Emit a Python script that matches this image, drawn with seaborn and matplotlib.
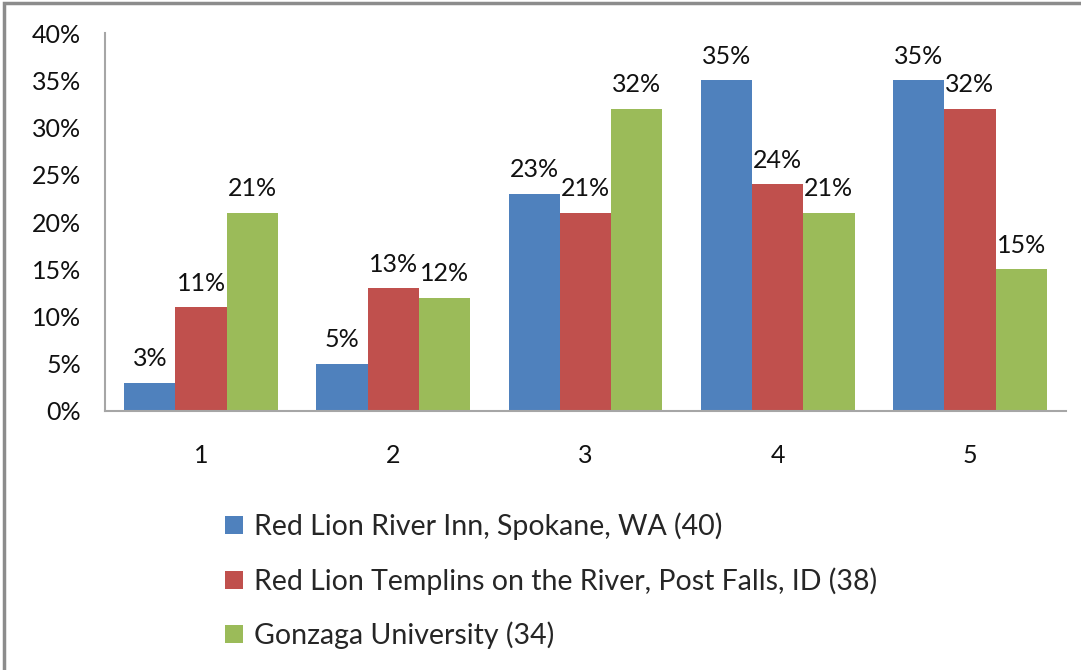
import pandas as pd
import numpy as np
import seaborn as sns
import matplotlib.pyplot as plt
from matplotlib.ticker import PercentFormatter
from matplotlib.patches import Rectangle

# ratings 1-5, percent of respondents per venue
ratings = ["1", "2", "3", "4", "5"]
venues = ["Red Lion River Inn, Spokane, WA (40)",
          "Red Lion Templins on the River, Post Falls, ID (38)",
          "Gonzaga University (34)"]
river_inn = [3, 5, 23, 35, 35]
templins = [11, 13, 21, 24, 32]
gonzaga = [21, 12, 32, 21, 15]
colors = ["#4f81bd", "#c0504d", "#9bbb59"]

rows = []
for venue, vals in zip(venues, [river_inn, templins, gonzaga]):
    for r, v in zip(ratings, vals):
        rows.append({"rating": r, "venue": venue, "pct": v})
df = pd.DataFrame(rows)

sns.set_style("white")
plt.rcParams['font.family'] = ['Lato', 'DejaVu Sans']

fig = plt.figure(figsize=(10.81, 6.70), dpi=100)
ax = fig.add_axes([0.0971, 0.3866, 0.889, 0.5641])

sns.barplot(data=df, x="rating", y="pct", hue="venue", palette=colors,
            width=0.8, saturation=1, linewidth=0, ax=ax, legend=True)

for cont in ax.containers:
    ax.bar_label(cont, fmt="%d%%", padding=9, fontsize=18, color="#111111")

ax.set_ylim(0, 40)
ax.set_yticks(np.arange(0, 41, 5))
ax.yaxis.set_major_formatter(PercentFormatter(decimals=0))
ax.set_xlim(-0.5, 4.5)
ax.set_xlabel("")
ax.set_ylabel("")
ax.tick_params(axis="y", length=0, pad=17, labelsize=18, labelcolor="#111111")
ax.tick_params(axis="x", length=0, pad=24, labelsize=18, labelcolor="#111111")

for side in ["top", "right"]:
    ax.spines[side].set_visible(False)
for side in ["left", "bottom"]:
    ax.spines[side].set_color("#a6a6a6")
    ax.spines[side].set_linewidth(1.5)

handles, labels = ax.get_legend_handles_labels()
ax.get_legend().remove()
fig.legend(handles, labels, loc="upper left", bbox_to_anchor=(0.198, 0.252),
           frameon=False, fontsize=20.5, handlelength=0.6, handleheight=0.6,
           handletextpad=0.4, labelspacing=0.95, borderaxespad=0)

# grey outer frame (only top and left edges visible)
fig.patches.append(Rectangle((0.004, -0.1), 1.2, 1.095, transform=fig.transFigure,
                             fill=False, edgecolor="#8c8c8c", linewidth=2.5))

fig.savefig("out.png", dpi=100)
